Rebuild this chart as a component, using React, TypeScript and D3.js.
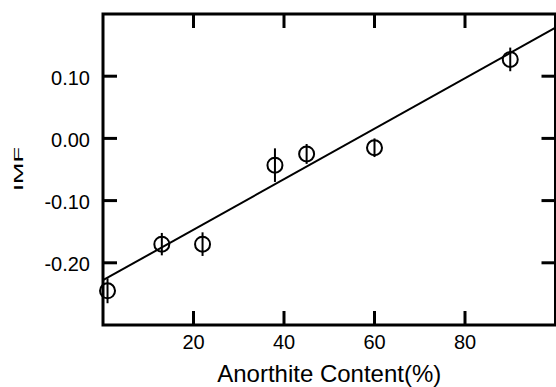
import { useEffect, useRef } from "react";
import * as d3 from "d3";

// values
const anorthite = [1, 13, 22, 38, 45, 60, 90];
const imf = [-0.245, -0.17, -0.17, -0.043, -0.025, -0.015, 0.127];
const imfErr = [0.02, 0.018, 0.019, 0.027, 0.016, 0.015, 0.019];
const xTicks = [20, 40, 60, 80];
const yTicks = [0.1, 0.0, -0.1, -0.2];
// fitted line as drawn in the figure
const fitIntercept = -0.228;
const fitSlope = 0.00406;

const W = 556;
const H = 387;
const FONT = "'Liberation Sans', Arial, Helvetica, sans-serif";

export default function App() {
  const ref = useRef<SVGSVGElement | null>(null);

  useEffect(() => {
    if (!ref.current) return;
    const svg = d3.select(ref.current);
    svg.selectAll("*").remove();

    const x = d3.scaleLinear().domain([0, 100]).range([103, 555.5]);
    const y = d3.scaleLinear().domain([-0.3, 0.2]).range([325, 14]);
    const tick = 14;

    const g = svg.append("g").attr("font-family", FONT).attr("fill", "#000");

    // frame
    g.append("rect")
      .attr("x", x(0))
      .attr("y", y(0.2))
      .attr("width", x(100) - x(0))
      .attr("height", y(-0.3) - y(0.2))
      .attr("fill", "none")
      .attr("stroke", "#000")
      .attr("stroke-width", 3);

    // inward ticks, bottom and top
    g.append("g")
      .selectAll("line")
      .data(xTicks)
      .join("line")
      .attr("x1", (d) => x(d))
      .attr("x2", (d) => x(d))
      .attr("y1", y(-0.3))
      .attr("y2", y(-0.3) - tick)
      .attr("stroke", "#000")
      .attr("stroke-width", 3);
    g.append("g")
      .selectAll("line")
      .data(xTicks)
      .join("line")
      .attr("x1", (d) => x(d))
      .attr("x2", (d) => x(d))
      .attr("y1", y(0.2))
      .attr("y2", y(0.2) + tick)
      .attr("stroke", "#000")
      .attr("stroke-width", 3);

    // inward ticks, left and right
    g.append("g")
      .selectAll("line")
      .data(yTicks)
      .join("line")
      .attr("x1", x(0))
      .attr("x2", x(0) + tick)
      .attr("y1", (d) => y(d))
      .attr("y2", (d) => y(d))
      .attr("stroke", "#000")
      .attr("stroke-width", 3);
    g.append("g")
      .selectAll("line")
      .data(yTicks)
      .join("line")
      .attr("x1", x(100))
      .attr("x2", x(100) - tick)
      .attr("y1", (d) => y(d))
      .attr("y2", (d) => y(d))
      .attr("stroke", "#000")
      .attr("stroke-width", 3);

    // tick labels
    g.append("g")
      .selectAll("text")
      .data(xTicks)
      .join("text")
      .attr("x", (d) => x(d))
      .attr("y", 349)
      .attr("text-anchor", "middle")
      .attr("font-size", 20)
      .text((d) => String(d));
    g.append("g")
      .selectAll("text")
      .data(yTicks)
      .join("text")
      .attr("x", 90)
      .attr("y", (d) => y(d) + 8.5)
      .attr("text-anchor", "end")
      .attr("font-size", 20)
      .text((d) => d3.format(".2f")(d).replace("−", "-"));

    // axis titles
    g.append("text")
      .attr("x", (x(0) + x(100)) / 2)
      .attr("y", 382)
      .attr("text-anchor", "middle")
      .attr("font-size", 24)
      .text("Anorthite Content(%)");
    // the IMF label is stretched along its length in the original
    g.append("text")
      .attr("transform", `translate(22.5,${169 + 22}) rotate(-90)`)
      .attr("x", 0)
      .attr("y", 0)
      .attr("font-size", 13)
      .attr("textLength", 44)
      .attr("lengthAdjust", "spacingAndGlyphs")
      .text("IMF");

    // fit line
    g.append("line")
      .attr("x1", x(0))
      .attr("y1", y(fitIntercept))
      .attr("x2", x(100))
      .attr("y2", y(fitIntercept + fitSlope * 100))
      .attr("stroke", "#000")
      .attr("stroke-width", 2);

    const pts = anorthite.map((a, i) => ({ a, v: imf[i], e: imfErr[i] }));

    // error bars
    g.append("g")
      .selectAll("line")
      .data(pts)
      .join("line")
      .attr("x1", (d) => x(d.a))
      .attr("x2", (d) => x(d.a))
      .attr("y1", (d) => y(d.v - d.e))
      .attr("y2", (d) => y(d.v + d.e))
      .attr("stroke", "#000")
      .attr("stroke-width", 2);

    // open circle markers
    g.append("g")
      .selectAll("circle")
      .data(pts)
      .join("circle")
      .attr("cx", (d) => x(d.a))
      .attr("cy", (d) => y(d.v))
      .attr("r", 7.5)
      .attr("fill", "none")
      .attr("stroke", "#000")
      .attr("stroke-width", 2);
  }, []);

  return (
    <svg
      ref={ref}
      width={W}
      height={H}
      style={{ position: "absolute", left: 0, top: 0, background: "#fff" }}
    />
  );
}
